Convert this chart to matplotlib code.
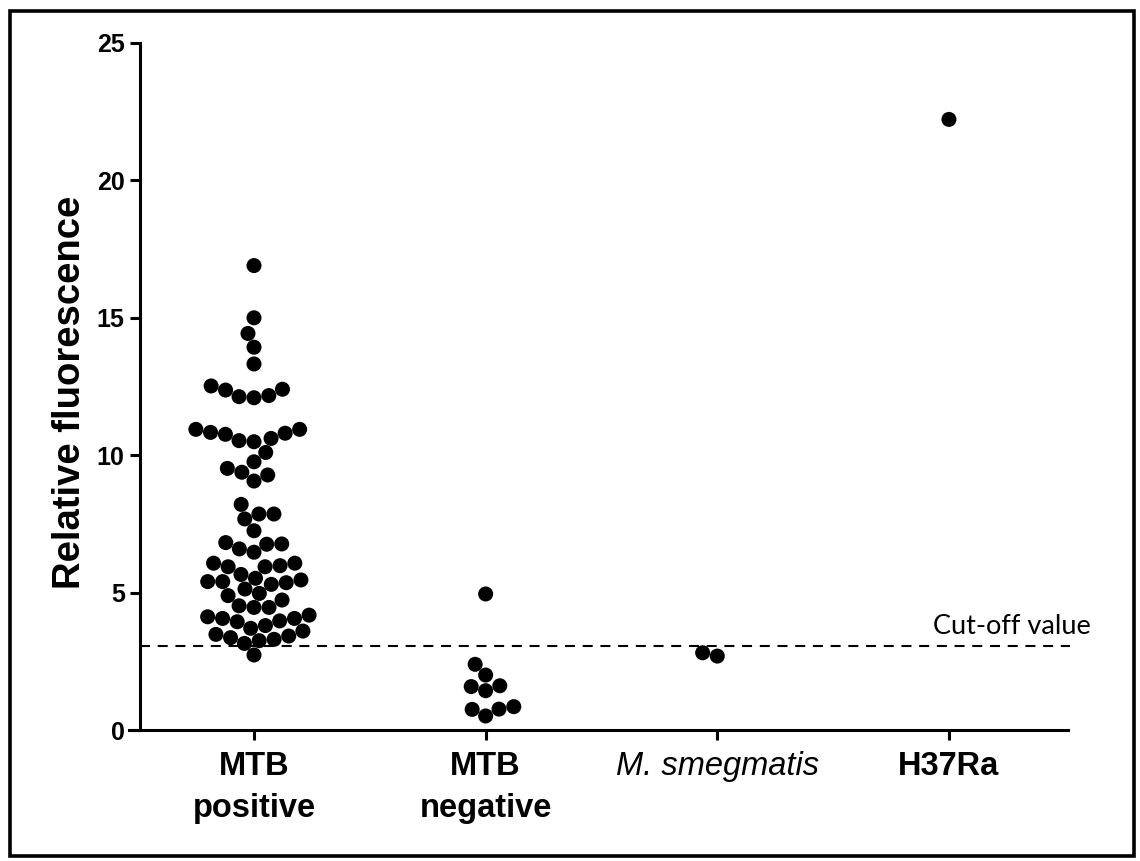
import numpy as np
import matplotlib
matplotlib.use("Agg")
import matplotlib.pyplot as plt
from matplotlib.patches import Rectangle

plt.rcParams['font.family'] = ['Liberation Sans', 'DejaVu Sans']

# data
groups = ["MTB\npositive", "MTB\nnegative", "M. smegmatis", "H37Ra"]

mtb_positive = [
    16.9, 15.0, 14.43, 13.93, 13.32,
    12.37, 12.17, 12.09, 12.13, 12.40, 12.52,
    10.94, 10.83, 10.76, 10.53, 10.10, 10.49, 10.61, 10.80, 10.94,
    9.76, 9.52, 9.28, 9.06, 9.38,
    8.21, 7.86, 7.68, 7.86, 7.25,
    6.77, 6.47, 6.59, 6.76, 6.82,
    6.07, 5.94, 5.94, 5.98, 6.07, 5.66,
    5.52, 5.40, 5.36, 5.13, 4.97, 4.73, 5.30, 5.40, 5.46, 4.89,
    4.46, 4.12, 4.06, 3.80, 3.60, 3.94, 3.97, 4.52, 4.06, 4.18, 4.46, 3.70,
    3.25, 3.42, 3.15, 3.36, 3.30, 3.48, 2.73,
]
mtb_negative = [4.95, 2.39, 2.00, 1.58, 1.43, 1.61, 0.76, 0.51, 0.75, 0.85]
m_smegmatis = [2.69, 2.81]
h37ra = [22.22]

cutoff = 3.07
yticks = [0, 5, 10, 15, 20, 25]


def swarm(ax, xc, vals, d):
    # simple beeswarm: place points in pixel space, closest to centre without overlap
    vals = np.asarray(vals, dtype=float)
    pts = ax.transData.transform(np.column_stack([np.full(len(vals), xc), vals]))
    xs = np.empty(len(vals))
    placed = []
    for i in np.argsort(vals, kind="stable"):
        px, py = pts[i]
        near = [(qx, qy) for qx, qy in placed if abs(qy - py) < d]
        cands = [px]
        for qx, qy in near:
            dx = np.sqrt(d * d - (qy - py) ** 2)
            cands += [qx - dx, qx + dx]
        cands.sort(key=lambda c: abs(c - px))
        for c in cands:
            if all((c - qx) ** 2 + (py - qy) ** 2 >= d * d - 1e-6 for qx, qy in near):
                break
        placed.append((c, py))
        xs[i] = c
    back = ax.transData.inverted().transform(np.column_stack([xs, pts[:, 1]]))
    return back[:, 0]


fig = plt.figure(figsize=(11.4, 8.61), dpi=100)
ax = fig.add_axes([129 / 1140, 131 / 861, 939 / 1140, 687 / 861])

ax.set_xlim(-0.5396, 3.514)
ax.set_ylim(0, 25)

for s in ['top', 'right']:
    ax.spines[s].set_visible(False)
ax.spines['left'].set_position(('data', -0.492))
ax.spines['left'].set_linewidth(2.2)
ax.spines['bottom'].set_linewidth(2.2)

ax.set_yticks(yticks)
ax.tick_params(axis='y', length=7, width=2.2, pad=4, labelsize=18)
for t in ax.get_yticklabels():
    t.set_fontweight('bold')

ax.set_xticks(range(len(groups)))
ax.set_xticklabels(groups)
ax.tick_params(axis='x', length=7, width=2.2, pad=8, labelsize=23.5)
for i, t in enumerate(ax.get_xticklabels()):
    t.set_linespacing(1.45)
    if i == 2:
        t.set_fontstyle('italic')
    else:
        t.set_fontweight('bold')

fig.text(70 / 1140, 1 - 392 / 861, "Relative fluorescence", rotation=90,
         ha='center', va='center', fontsize=27.5, fontweight='bold')

# cut-off line
ax.axhline(cutoff, xmin=0.0117, xmax=1.002, color='black', lw=1.5,
           linestyle=(0, (4.8, 3.7)), clip_on=False)
ax.text(3.27, cutoff + 0.7, "Cut-off value", family=['Lato', 'DejaVu Sans'],
        fontsize=19.5, ha='center', va='center')

fig.canvas.draw()
for i, vals in enumerate([mtb_positive, mtb_negative, m_smegmatis, h37ra]):
    xs = swarm(ax, i, vals, 15)
    ax.scatter(xs, vals, s=117, color='black', edgecolors='none', clip_on=False, zorder=3)

# outer frame
fig.patches.append(Rectangle((10 / 1140, 5 / 861), 1124 / 1140, 845 / 861,
                             transform=fig.transFigure, fill=False,
                             edgecolor='black', lw=2.6))

fig.savefig("out.png", dpi=100)
